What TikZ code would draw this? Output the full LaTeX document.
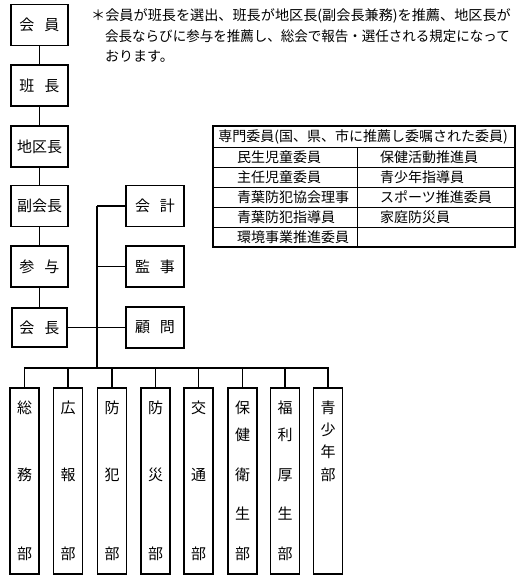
\documentclass[tikz,border=0pt]{standalone}
\usepackage{fontspec}
\newfontfamily\jp{Noto Sans CJK JP}
\usetikzlibrary{calc}
\begin{document}
\begin{tikzpicture}[x=1pt,y=-1pt,
  box/.style={draw, line width=1.1pt, minimum width=57pt, minimum height=41pt, inner sep=0pt, font=\jp\fontsize{15}{18}\selectfont},
  thickbox/.style={box, line width=2.8pt, minimum width=55pt, minimum height=39pt},
  dept/.style={draw, line width=1.1pt, minimum width=29pt, minimum height=186pt, inner sep=0pt},
  ch/.style={inner sep=0pt, font=\jp\fontsize{15}{18}\selectfont},
  conn/.style={line width=1.1pt},
  note/.style={inner sep=0pt, anchor=west, font=\jp\fontsize{14}{16}\selectfont},
  tbl/.style={inner sep=0pt, anchor=west, font=\jp\fontsize{14}{16}\selectfont},
  tline/.style={line width=1pt}
]
\useasboundingbox (0,0) rectangle (520,578);
\newcommand{\gapsp}{\hspace{10pt}}
% left column
\node[box] (kaiin) at (39.5,25) {会\gapsp 員};
\node[box] (hancho) at (39.5,85.5) {班\gapsp 長};
\node[box] (chikucho) at (39.5,146.5) {地区長};
\node[box] (fuku) at (39.5,206) {副会長};
\node[box] (sanyo) at (39.5,266.5) {参\gapsp 与};
\node[thickbox] (kaicho) at (39.5,327.5) {会\gapsp 長};
% right column
\node[box, minimum width=58pt] (kaikei) at (155,206) {会\gapsp 計};
\node[box, minimum width=58pt] (kanji) at (155,266.5) {監\gapsp 事};
\node[box, minimum width=58pt] (komon) at (155,327.5) {顧\gapsp 問};
% vertical chain
\draw[conn] (kaiin) -- (hancho);
\draw[conn] (hancho) -- (chikucho);
\draw[conn] (chikucho) -- (fuku);
\draw[conn] (fuku) -- (sanyo);
\draw[conn] (sanyo) -- (kaicho);
% bus
\coordinate (j1) at (97,206);
\coordinate (j4) at (97,368);
\draw[conn] (j1) -- (j4);
\draw[conn] (j1) -- (kaikei.west);
\draw[conn] (kanji.west) -- (kanji.west -| j1);
\draw[conn] (kaicho.east) -- (komon.west);
% note
\node[note] (n1) at (91,16) {\scalebox{1.01}[1]{＊会員が班長を選出、班長が地区長(副会長兼務)を推薦、地区長が}};
\node[note] (n2) at (105,36) {\scalebox{0.965}[1]{会長ならびに参与を推薦し、総会で報告・選任される規定になって}};
\node[note] (n3) at (105,56) {おります。};
% table
\draw[line width=1.2pt] (213,126) rectangle (515,247);
\draw[tline] (213,147) -- (515,147);
\draw[tline] (213,167) -- (515,167);
\draw[tline] (213,187) -- (515,187);
\draw[tline] (213,207) -- (515,207);
\draw[tline] (213,227) -- (515,227);
\draw[tline] (357,147) -- (357,247);
\node[inner sep=0pt, font=\jp\fontsize{14}{16}\selectfont] (th) at (363,136.5) {専門委員(国、県、市に推薦し委嘱された委員)};
\node[tbl] (t11) at (237,157) {民生児童委員};
\node[tbl] (t21) at (237,177) {主任児童委員};
\node[tbl] (t31) at (237,197) {青葉防犯協会理事};
\node[tbl] (t41) at (237,217) {青葉防犯指導員};
\node[tbl] (t51) at (237,237) {環境事業推進委員};
\node[tbl] (t12) at (380,157) {保健活動推進員};
\node[tbl] (t22) at (380,177) {青少年指導員};
\node[tbl] (t32) at (380,197) {スポーツ推進委員};
\node[tbl] (t42) at (380,217) {家庭防災員};
% departments
\node[dept] (d1) at (24.5,481) {};
\node[dept] (d2) at (68,481) {};
\node[dept] (d3) at (112,481) {};
\node[dept] (d4) at (155.5,481) {};
\node[dept] (d5) at (198.5,481) {};
\node[dept] (d6) at (242.5,481) {};
\node[dept] (d7) at (285,481) {};
\node[dept] (d8) at (328,481) {};
\draw[conn] (d1.north) |- (j4) -| (d8.north);
\foreach \d in {d2,d3,d4,d5,d6,d7} \draw[conn] (\d.north) -- (\d.north |- j4);
% dept characters
\node[ch] (d1a) at (24.5,408) {総};
\node[ch] (d1b) at (24.5,475) {務};
\node[ch] (d1c) at (24.5,554) {部};
\node[ch] (d2a) at (68,408) {広};
\node[ch] (d2b) at (68,475) {報};
\node[ch] (d2c) at (68,554) {部};
\node[ch] (d3a) at (112,408) {防};
\node[ch] (d3b) at (112,475) {犯};
\node[ch] (d3c) at (112,554) {部};
\node[ch] (d4a) at (155.5,408) {防};
\node[ch] (d4b) at (155.5,475) {災};
\node[ch] (d4c) at (155.5,554) {部};
\node[ch] (d5a) at (198.5,408) {交};
\node[ch] (d5b) at (198.5,475) {通};
\node[ch] (d5c) at (198.5,554) {部};
\node[ch] (d6a) at (242.5,408) {保};
\node[ch] (d6b) at (242.5,435) {健};
\node[ch] (d6c) at (242.5,475) {衛};
\node[ch] (d6d) at (242.5,514) {生};
\node[ch] (d6e) at (242.5,554) {部};
\node[ch] (d7a) at (285,408) {福};
\node[ch] (d7b) at (285,435) {利};
\node[ch] (d7c) at (285,475) {厚};
\node[ch] (d7d) at (285,514) {生};
\node[ch] (d7e) at (285,554) {部};
\node[ch] (d8a) at (328,408) {青};
\node[ch] (d8b) at (328,430) {少};
\node[ch] (d8c) at (328,452) {年};
\node[ch] (d8d) at (328,475) {部};
\end{tikzpicture}
\end{document}
